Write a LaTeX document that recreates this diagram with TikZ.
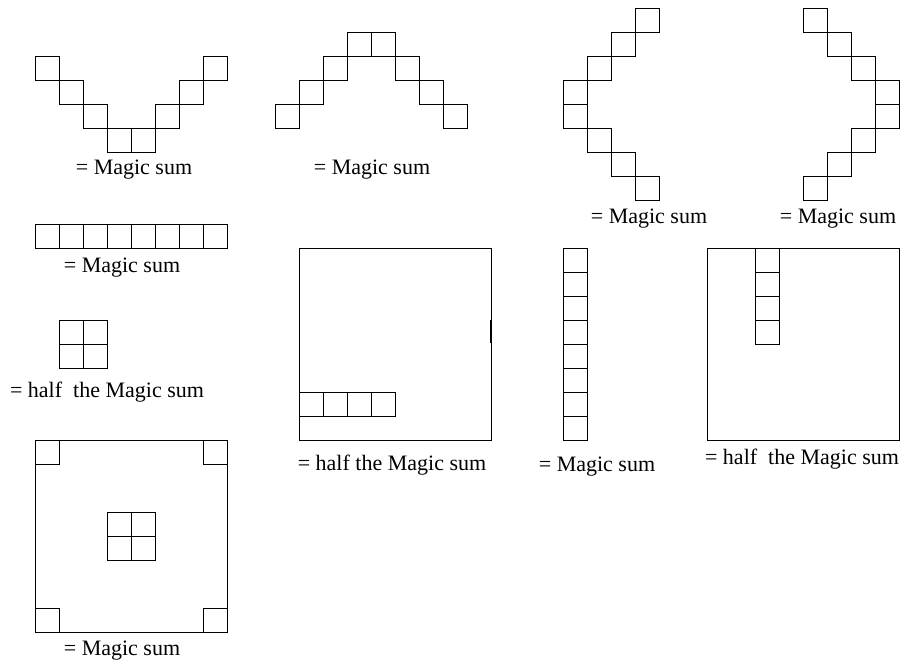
\documentclass[tikz,border=0pt]{standalone}
\usepackage{fontspec}
\setmainfont{Liberation Serif}

\begin{document}
\begin{tikzpicture}[
    x=0.5pt, y=-0.5pt, line width=0.5pt,
    caption/.style={anchor=base, inner sep=0pt, font=\fontsize{11}{13}\selectfont},
]
\useasboundingbox (0,0) rectangle (900,664);

\foreach \c/\r in {0/0,1/1,2/2,3/3,4/3,5/2,6/1,7/0}
    \draw (35+24*\c, 56+24*\r) rectangle ++(24,24);
\foreach \c/\r in {0/3,1/2,2/1,3/0,4/0,5/1,6/2,7/3}
    \draw (275+24*\c, 32+24*\r) rectangle ++(24,24);
\foreach \r/\c in {0/3,1/2,2/1,3/0,4/0,5/1,6/2,7/3}
    \draw (563+24*\c, 8+24*\r) rectangle ++(24,24);
\foreach \r/\c in {0/0,1/1,2/2,3/3,4/3,5/2,6/1,7/0}
    \draw (803+24*\c, 8+24*\r) rectangle ++(24,24);

\foreach \c in {0,...,7}
    \draw (35+24*\c, 224) rectangle ++(24,24);
\foreach \c in {0,1}
    \foreach \r in {0,1}
        \draw (59+24*\c, 320+24*\r) rectangle ++(24,24);

\draw (299,248) rectangle (491,440);
\foreach \c in {0,...,3}
    \draw (299+24*\c, 392) rectangle ++(24,24);
\draw[line width=1pt] (491,320) -- (491,343);

\foreach \r in {0,...,7}
    \draw (563, 248+24*\r) rectangle ++(24,24);

\draw (707,248) rectangle (899,440);
\foreach \r in {0,...,3}
    \draw (755, 248+24*\r) rectangle ++(24,24);

\draw (35,440) rectangle (227,632);
\foreach \x/\y in {35/440,203/440,35/608,203/608}
    \draw (\x,\y) rectangle ++(24,24);
\foreach \c in {0,1}
    \foreach \r in {0,1}
        \draw (107+24*\c, 512+24*\r) rectangle ++(24,24);

\node[caption] (lblV) at (134,174) {= Magic sum};
\node[caption] (lblA) at (372,174) {= Magic sum};
\node[caption] (lblL) at (649,223) {= Magic sum};
\node[caption] (lblR) at (838,223) {= Magic sum};
\node[caption] (lblRow) at (122,272) {= Magic sum};
\node[caption] (lblQuad) at (107,397) {= half\ \ the Magic sum};
\node[caption] (lblHalfRow) at (392,470) {= half the Magic sum};
\node[caption] (lblCol) at (597,471) {= Magic sum};
\node[caption] (lblHalfCol) at (802,464) {= half\ \ the Magic sum};
\node[caption] (lblCorners) at (122,655) {= Magic sum};
\end{tikzpicture}
\end{document}
